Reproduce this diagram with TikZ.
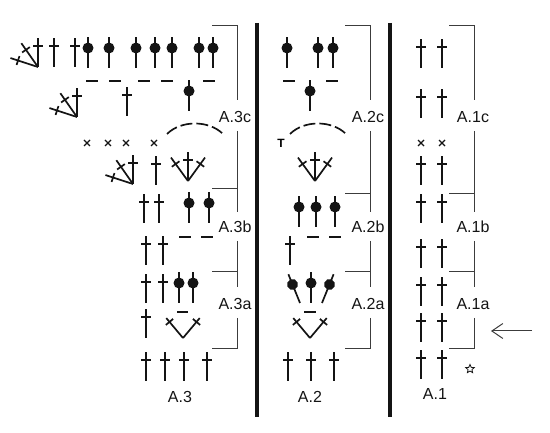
\documentclass[tikz,border=0pt]{standalone}
\usepackage{fontspec}
\setmainfont{Liberation Sans}
\usetikzlibrary{arrows.meta,shapes.geometric}
\definecolor{ChartInk}{RGB}{20,20,20}
\definecolor{ChartRule}{RGB}{60,60,60}

\begin{document}
\begin{tikzpicture}[x=1pt,y=-1pt,>=Stealth]
    \tikzset{
      stem/.style={draw=ChartInk,line width=1.7pt},
      rest/.style={draw=ChartInk,line width=1.7pt},
      frame/.style={draw=ChartRule,line width=0.9pt},
      divider/.style={draw=ChartInk,line width=4.4pt},
      tag/.style={font=\fontsize{16}{18}\selectfont,inner sep=0pt,text=ChartInk},
      tr/.pic={\draw[stem] (0,0) -- (0,-29); \draw[stem] (-4.7,-21) -- (4.7,-21);},
      arm/.pic={\draw[stem] (0,0) -- (0,-26); \draw[stem] (-4.7,-21) -- (4.7,-21);},
      dc/.pic={\draw[stem] (0,0) -- (0,-31); \fill[ChartInk] (0,-20) circle (5.5pt);},
      sc/.pic={\draw[rest,line width=1.4pt] (-3,-3) -- (3,3); \draw[rest,line width=1.4pt] (-3,3) -- (3,-3);},
      fan/.pic={\pic {tr}; \pic[rotate=35] {tr}; \pic[rotate=72] {tr};},
      vee/.pic={\pic {tr}; \pic[rotate=36] {tr}; \pic[rotate=-36] {tr};},
      wide/.pic={\pic[rotate=40] {arm}; \pic[rotate=-40] {arm};}
    }
    \useasboundingbox (0,0) rectangle (550,433);
    % dividers
    \draw[divider] (257,23) -- (257,417);
    \draw[divider] (390,23) -- (390,417);
    % brackets
    \foreach \x/\n/\w/\t in {237/3/235/188,370/2/368/193,474/1/473/193} {
      \node[tag] (c\n) at (\w,117) {A.\n c};
      \node[tag] (b\n) at (\w,227) {A.\n b};
      \node[tag] (a\n) at (\w,304) {A.\n a};
      \draw[frame] (\x-25,25) -| (\x,100);
      \draw[frame] (\x,131) -- (\x,212);
      \draw[frame] (\x-25,\t) -- (\x,\t);
      \draw[frame] (\x,241) -- (\x,287);
      \draw[frame] (\x-25,271) -- (\x,271);
      \draw[frame] (\x,318) |- (\x-25,348);
    }
    \node[tag] (t3) at (180,397) {A.3};
    \node[tag] (t2) at (310,397) {A.2};
    \node[tag] (t1) at (435,394) {A.1};
    % A.3
    \pic at (38,67) {fan};
    \foreach \x in {54,75} \pic at (\x,67) {tr};
    \foreach \x in {88,109,136,155,172,199,213} \pic at (\x,68) {dc};
    \foreach \x in {86,109,138,161,203} \draw[rest] (\x,81) -- ++(12,0);
    \pic at (77,117) {fan};
    \pic at (127,116) {tr};
    \pic at (189,111) {dc};
    \draw[rest,dash pattern=on 12pt off 4pt] (167,134) .. controls (181,120) and (209,120) .. (223,134);
    \foreach \x in {87,108,126,154} \pic at (\x,143) {sc};
    \pic at (133,184) {fan};
    \pic at (156,185) {tr};
    \pic at (188,181) {vee};
    \foreach \x in {144,159} \pic at (\x,223) {tr};
    \foreach \x in {189,209} \pic at (\x,223) {dc};
    \foreach \x in {146,163} \pic at (\x,265) {tr};
    \foreach \x in {179,201} \draw[rest] (\x,237) -- ++(12,0);
    \foreach \x in {146,163} \pic at (\x,303) {tr};
    \foreach \x in {179,193} \pic at (\x,303) {dc};
    \draw[rest] (177,312) -- ++(11,0);
    \pic at (146,338) {tr};
    \pic at (183,338) {wide};
    \foreach \x in {146,165,184,207} \pic at (\x,381) {tr};
    % A.2
    \foreach \x in {287,318,333} \pic at (\x,68) {dc};
    \foreach \x in {283,326} \draw[rest] (\x,81) -- ++(12,0);
    \pic at (310,111) {dc};
    \draw[rest,dash pattern=on 12pt off 4pt] (290,134) .. controls (304,120) and (332,120) .. (346,134);
    \node[font=\fontsize{12}{12}\bfseries,inner sep=0pt] (turn) at (281,143) {T};
    \pic at (315,181) {vee};
    \foreach \x in {299,316,335} \pic at (\x,227) {dc};
    \foreach \x in {307,329} \draw[rest] (\x,237) -- ++(12,0);
    \pic at (290,265) {tr};
    \pic[rotate=22] at (300,303) {dc};
    \pic at (311,303) {dc};
    \pic[rotate=-22] at (322,303) {dc};
    \draw[rest] (304,312) -- ++(12,0);
    \pic at (310,338) {wide};
    \foreach \x in {288,311,334} \pic at (\x,381) {tr};
    % A.1
    \foreach \y in {68,118,185,223,268,306,342,379} {
      \pic at (421,\y) {tr};
      \pic at (442,\y) {tr};
    }
    \foreach \x in {421,442} \pic at (\x,143) {sc};
    \node[star,star points=5,star point ratio=2.2,draw=ChartInk,line width=0.8pt,minimum size=9pt,inner sep=0pt] (mark) at (470,369) {};
    \coordinate (from) at (532,331);
    \coordinate (into) at (491,331);
    \draw[-{Straight Barb[length=11pt,width=15pt]},ChartRule,line width=1pt] (from) -- (into);
  \end{tikzpicture}
\end{document}
